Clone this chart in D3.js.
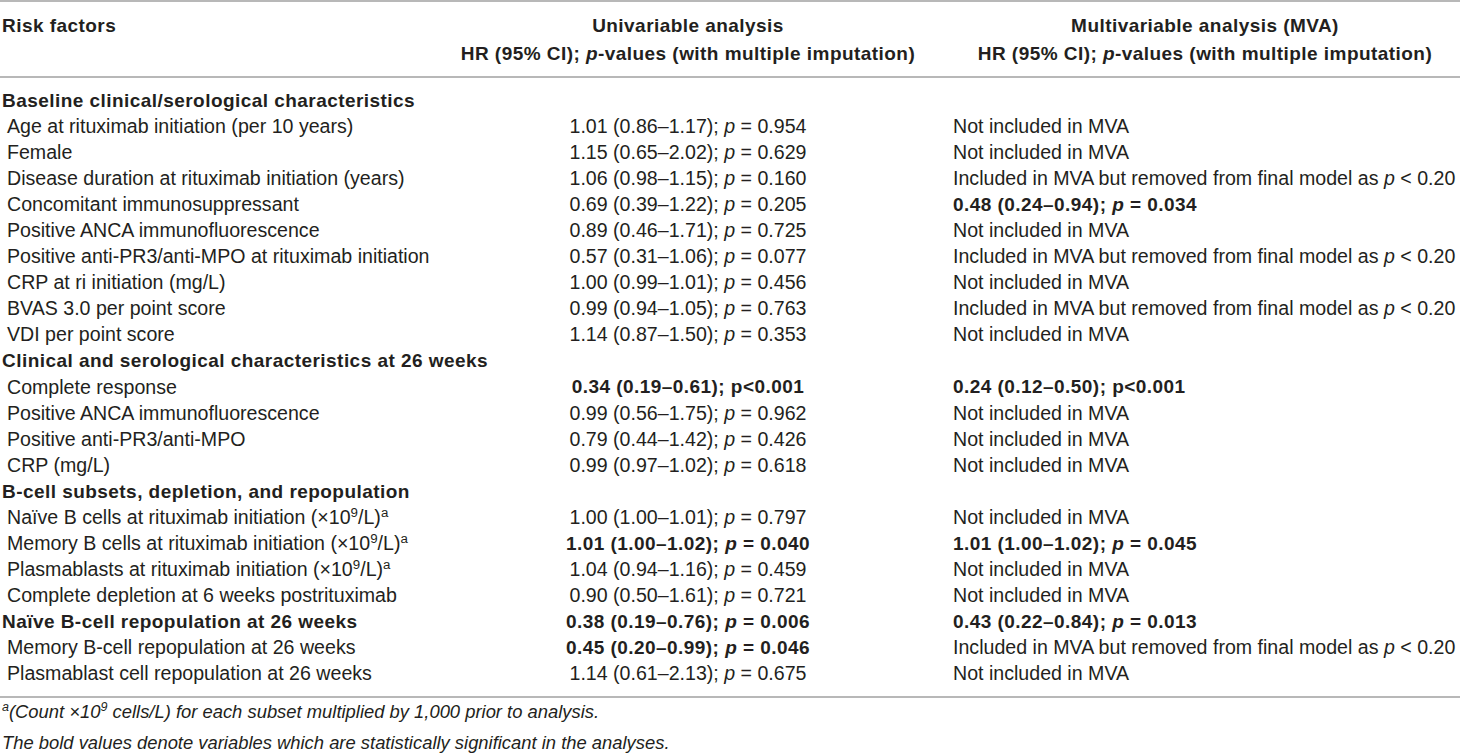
<!DOCTYPE html>
<html>
<head>
<meta charset="utf-8">
<script src="https://cdn.jsdelivr.net/npm/d3@7"></script>
<style>
  body { margin: 0; background: #fff; }
  svg text { font-family: "Liberation Sans", Arial, Helvetica, sans-serif; fill: #231f20; }
</style>
</head>
<body>
<div id="table"></div>
<script>
// Table content.  *x* = italic, ^x^ = superscript
const headers = ["Risk factors", "Univariable analysis", "Multivariable analysis (MVA)"];
const subHeaders = ["", "HR (95% CI); *p*-values (with multiple imputation)", "HR (95% CI); *p*-values (with multiple imputation)"];

const labels = [
  "Baseline clinical/serological characteristics",
  "Age at rituximab initiation (per 10 years)",
  "Female",
  "Disease duration at rituximab initiation (years)",
  "Concomitant immunosuppressant",
  "Positive ANCA immunofluorescence",
  "Positive anti-PR3/anti-MPO at rituximab initiation",
  "CRP at ri initiation (mg/L)",
  "BVAS 3.0 per point score",
  "VDI per point score",
  "Clinical and serological characteristics at 26 weeks",
  "Complete response",
  "Positive ANCA immunofluorescence",
  "Positive anti-PR3/anti-MPO",
  "CRP (mg/L)",
  "B-cell subsets, depletion, and repopulation",
  "Naïve B cells at rituximab initiation (×10^9^/L)^a^",
  "Memory B cells at rituximab initiation (×10^9^/L)^a^",
  "Plasmablasts at rituximab initiation (×10^9^/L)^a^",
  "Complete depletion at 6 weeks postrituximab",
  "Naïve B-cell repopulation at 26 weeks",
  "Memory B-cell repopulation at 26 weeks",
  "Plasmablast cell repopulation at 26 weeks"
];
// rows whose label is bold and flush left
const labelBold = [0, 10, 15, 20];

const NI = "Not included in MVA";
const RM = "Included in MVA but removed from final model as *p* < 0.20";

const uniValues = [
  "", "1.01 (0.86–1.17); *p* = 0.954", "1.15 (0.65–2.02); *p* = 0.629", "1.06 (0.98–1.15); *p* = 0.160",
  "0.69 (0.39–1.22); *p* = 0.205", "0.89 (0.46–1.71); *p* = 0.725", "0.57 (0.31–1.06); *p* = 0.077",
  "1.00 (0.99–1.01); *p* = 0.456", "0.99 (0.94–1.05); *p* = 0.763", "1.14 (0.87–1.50); *p* = 0.353",
  "", "0.34 (0.19–0.61); p<0.001", "0.99 (0.56–1.75); *p* = 0.962", "0.79 (0.44–1.42); *p* = 0.426",
  "0.99 (0.97–1.02); *p* = 0.618",
  "", "1.00 (1.00–1.01); *p* = 0.797", "1.01 (1.00–1.02); *p* = 0.040", "1.04 (0.94–1.16); *p* = 0.459",
  "0.90 (0.50–1.61); *p* = 0.721", "0.38 (0.19–0.76); *p* = 0.006", "0.45 (0.20–0.99); *p* = 0.046",
  "1.14 (0.61–2.13); *p* = 0.675"
];
const uniBold = [11, 17, 20, 21];

const mvaValues = [
  "", NI, NI, RM, "0.48 (0.24–0.94); *p* = 0.034", NI, RM, NI, RM, NI,
  "", "0.24 (0.12–0.50); p<0.001", NI, NI, NI,
  "", NI, "1.01 (1.00–1.02); *p* = 0.045", NI, NI, "0.43 (0.22–0.84); *p* = 0.013", RM, NI
];
const mvaBold = [4, 11, 17, 20];

const footnotes = [
  "^a^(Count ×10^9^ cells/L) for each subset multiplied by 1,000 prior to analysis.",
  "The bold values denote variables which are statistically significant in the analyses."
];

// layout
const width = 1460, height = 754;
const fontSize = 19.6, boldSize = 19, noteSize = 18.4;
const colX = {label: 2, indent: 7, uni: 688, mva: 953, mvaHead: 1205};

const svg = d3.select("#table").append("svg")
  .attr("width", width)
  .attr("height", height);

const y = d3.scalePoint()
  .domain(d3.range(labels.length))
  .range([100, 673]);

// write a string with *italic* and ^sup^ markup into a text element
function rich(sel, str, size) {
  const parts = str.split(/(\*[^*]+\*|\^[^^]+\^)/).filter(s => s.length);
  let shifted = false;
  parts.forEach(p => {
    const t = sel.append("tspan");
    if (p.startsWith("*")) {
      t.text(p.slice(1, -1)).style("font-style", "italic");
    } else if (p.startsWith("^")) {
      t.text(p.slice(1, -1)).attr("font-size", size * 0.68).attr("dy", shifted ? null : -7);
      shifted = true;
      return;
    } else {
      t.text(p);
    }
    if (shifted) { t.attr("dy", 7); shifted = false; }
  });
}

function cell(x, yy, str, opts = {}) {
  const size = opts.size || (opts.bold ? boldSize : fontSize);
  const t = svg.append("text")
    .attr("x", x)
    .attr("y", yy)
    .attr("dy", "0.36em")
    .attr("font-size", size)
    .attr("text-anchor", opts.anchor || "start");
  if (opts.bold) t.attr("font-weight", "bold").attr("letter-spacing", 0.45);
  if (opts.italic) t.style("font-style", "italic");
  rich(t, str, size);
  return t;
}

// rules
const rule = d3.line();
[1, 77, 697].forEach(ry => {
  svg.append("path")
    .attr("d", rule([[0, ry], [width, ry]]))
    .attr("stroke", "#a0a0a0")
    .attr("stroke-width", 1.6)
    .attr("fill", "none");
});

// header
cell(colX.label, 25, headers[0], {bold: true});
cell(colX.uni, 25, headers[1], {bold: true, anchor: "middle"});
cell(colX.mvaHead, 25, headers[2], {bold: true, anchor: "middle"});
cell(colX.uni, 53, subHeaders[1], {bold: true, anchor: "middle"});
cell(colX.mvaHead, 53, subHeaders[2], {bold: true, anchor: "middle"});

// body
labels.forEach((lab, i) => {
  const b = labelBold.includes(i);
  cell(b ? colX.label : colX.indent, y(i), lab, {bold: b});
  if (uniValues[i]) cell(colX.uni, y(i), uniValues[i], {bold: uniBold.includes(i), anchor: "middle"});
  if (mvaValues[i]) cell(colX.mva, y(i), mvaValues[i], {bold: mvaBold.includes(i)});
});

// footnotes
footnotes.forEach((f, i) => {
  cell(colX.label, 718 + i * 24, f, {italic: true, size: noteSize});
});
</script>
</body>
</html>
